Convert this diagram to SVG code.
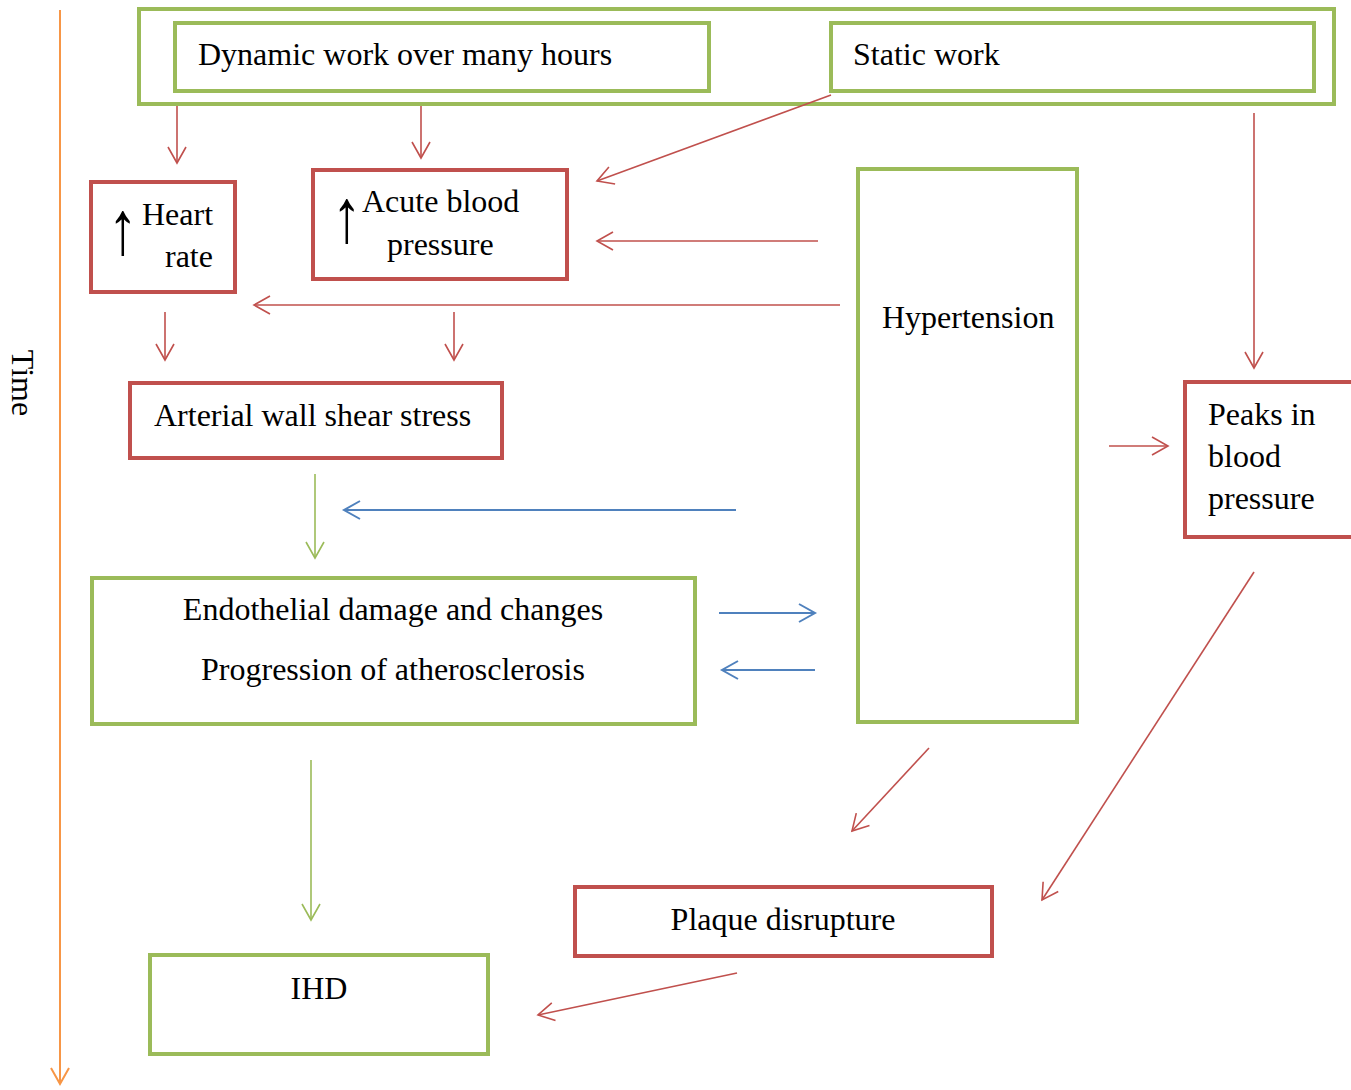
<svg xmlns="http://www.w3.org/2000/svg" width="1351" height="1090" viewBox="0 0 1351 1090">
<style>
.g{fill:#fff;stroke:#9BBB59;stroke-width:4}
.r{fill:#fff;stroke:#C0504D;stroke-width:4}
text{font-family:"Liberation Serif","Times New Roman",serif;font-size:32px;fill:#000}
.c{text-anchor:middle}
.ar{font-size:46px}
.lr{stroke:#C0504D;stroke-width:1.6;fill:none}
.lg{stroke:#9BBB59;stroke-width:1.6;fill:none}
.lb{stroke:#4F81BD;stroke-width:2;fill:none}
.lo{stroke:#F79646;stroke-width:2;fill:none}
</style>
<defs>
<marker id="mr" markerWidth="24" markerHeight="24" refX="20" refY="12" orient="auto" markerUnits="userSpaceOnUse"><polyline points="4,3 20,12 4,21" fill="none" stroke="#C0504D" stroke-width="1.6"/></marker>
<marker id="mg" markerWidth="24" markerHeight="24" refX="20" refY="12" orient="auto" markerUnits="userSpaceOnUse"><polyline points="4,3 20,12 4,21" fill="none" stroke="#9BBB59" stroke-width="1.6"/></marker>
<marker id="mb" markerWidth="24" markerHeight="24" refX="20" refY="12" orient="auto" markerUnits="userSpaceOnUse"><polyline points="4,3 20,12 4,21" fill="none" stroke="#4F81BD" stroke-width="2"/></marker>
<marker id="mo" markerWidth="24" markerHeight="24" refX="20" refY="12" orient="auto" markerUnits="userSpaceOnUse"><polyline points="4,3 20,12 4,21" fill="none" stroke="#F79646" stroke-width="2"/></marker>
</defs>
<g id="time">
<text transform="translate(12,383) rotate(90)" class="c">Time</text>
</g>
<g id="work-group"><rect class="g" x="139" y="9" width="1195" height="95"/></g>
<g id="dynamic-work"><rect class="g" x="175" y="23" width="534" height="68"/><text x="198" y="65">Dynamic work over many hours</text></g>
<g id="static-work"><rect class="g" x="831" y="23" width="483" height="68"/><text x="853" y="65">Static work</text></g>
<g id="heart-rate"><rect class="r" x="91" y="182" width="144" height="110"/><text class="ar" transform="translate(108,254) scale(1.3,1.65)">↑</text><text x="142" y="225">Heart</text><text x="165" y="267">rate</text></g>
<g id="acute-bp"><rect class="r" x="313" y="170" width="254" height="109"/><text class="ar" transform="translate(332,242) scale(1.3,1.65)">↑</text><text x="362" y="212">Acute blood</text><text x="387" y="255">pressure</text></g>
<g id="hypertension"><rect class="g" x="858" y="169" width="219" height="553"/><text x="882" y="328">Hypertension</text></g>
<g id="arterial"><rect class="r" x="130" y="383" width="372" height="75"/><text x="154" y="426">Arterial wall shear stress</text></g>
<g id="peaks"><rect class="r" x="1185" y="382" width="168" height="155"/><text x="1208" y="425">Peaks in</text><text x="1208" y="467">blood</text><text x="1208" y="509">pressure</text></g>
<g id="endothelial"><rect class="g" x="92" y="578" width="603" height="146"/><text class="c" x="393" y="620">Endothelial damage and changes</text><text class="c" x="393" y="680">Progression of atherosclerosis</text></g>
<g id="plaque"><rect class="r" x="575" y="887" width="417" height="69"/><text class="c" x="783" y="930">Plaque disrupture</text></g>
<g id="ihd"><rect class="g" x="150" y="955" width="338" height="99"/><text class="c" x="319" y="999">IHD</text></g>
<g id="connectors">
<line class="lo" x1="60" y1="10" x2="60" y2="1084" marker-end="url(#mo)"/>
<line class="lr" x1="177" y1="106" x2="177" y2="163" marker-end="url(#mr)"/>
<line class="lr" x1="421" y1="106" x2="421" y2="158" marker-end="url(#mr)"/>
<line class="lr" x1="831" y1="95" x2="597" y2="181" marker-end="url(#mr)"/>
<line class="lr" x1="818" y1="241" x2="597" y2="241" marker-end="url(#mr)"/>
<line class="lr" x1="840" y1="305" x2="254" y2="305" marker-end="url(#mr)"/>
<line class="lr" x1="165" y1="312" x2="165" y2="360" marker-end="url(#mr)"/>
<line class="lr" x1="454" y1="312" x2="454" y2="360" marker-end="url(#mr)"/>
<line class="lr" x1="1254" y1="113" x2="1254" y2="368" marker-end="url(#mr)"/>
<line class="lr" x1="1109" y1="446" x2="1168" y2="446" marker-end="url(#mr)"/>
<line class="lr" x1="929" y1="748" x2="852" y2="831" marker-end="url(#mr)"/>
<line class="lr" x1="1254" y1="572" x2="1042" y2="900" marker-end="url(#mr)"/>
<line class="lr" x1="737" y1="973" x2="538" y2="1015" marker-end="url(#mr)"/>
<line class="lg" x1="315" y1="474" x2="315" y2="558" marker-end="url(#mg)"/>
<line class="lg" x1="311" y1="760" x2="311" y2="920" marker-end="url(#mg)"/>
<line class="lb" x1="736" y1="510" x2="344" y2="510" marker-end="url(#mb)"/>
<line class="lb" x1="719" y1="613" x2="815" y2="613" marker-end="url(#mb)"/>
<line class="lb" x1="815" y1="670" x2="722" y2="670" marker-end="url(#mb)"/>
</g>
</svg>
